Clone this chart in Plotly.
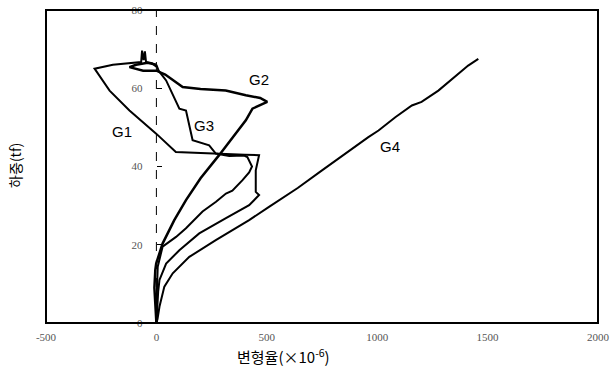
import plotly.graph_objects as go

# ---- data (strain ×10^-6, load tf) ----
g1_x = [0, 3, 8, 14, 44, 104, 194, 315, 420, 465, 450, 450, 465, 400, 269, 180, 88, -1, -122, -212, -280, -197, -122, -69, -65, -58, -52, -45, -47, -20, 0]
g1_y = [0, 4, 8, 11.0, 15.2, 18.6, 22.9, 26.8, 30.1, 32.7, 33.5, 39.0, 42.9, 43.0, 43.3, 43.5, 43.7, 48.4, 54.3, 59.4, 65.0, 66.0, 66.3, 66.7, 69.6, 67.2, 69.4, 67.0, 66.7, 66.4, 65.5]

g2_x = [0, -5, -9, -5, -1, 28, 81, 134, 200, 284, 345, 405, 435, 465, 502, 470, 405, 314, 200, 119, 88, 40, 0, -60, -122, -92, -40, 0]
g2_y = [0, 4, 9, 13.5, 15.2, 20.3, 26.3, 31.4, 37.0, 42.9, 47.5, 51.8, 54.8, 55.6, 56.5, 57.5, 58.2, 59.4, 59.8, 60.3, 61.6, 63.5, 64.5, 64.5, 65.4, 66.0, 66.5, 66.0]

g3_x = [0, 1, 6, 28, 89, 134, 209, 270, 315, 344, 390, 420, 433, 412, 397, 330, 269, 239, 164, 134, 104, 44, 10, 0]
g3_y = [0, 6, 14.4, 19.5, 22.0, 24.2, 28.5, 31.0, 33.1, 33.8, 36.5, 38.5, 40.0, 42.4, 42.8, 42.7, 43.3, 45.4, 46.7, 54.3, 54.8, 62.0, 64.5, 66.0]

g4_x = [0, 5, 14, 36, 74, 149, 269, 420, 510, 640, 750, 860, 960, 1006, 1082, 1157, 1201, 1277, 1340, 1412, 1458]
g4_y = [0, 1, 4.2, 9.3, 12.7, 16.9, 21.2, 26.3, 29.7, 34.5, 39.0, 43.5, 47.5, 49.2, 52.6, 55.6, 56.5, 59.4, 62.5, 65.8, 67.5]

series_names = ["G1", "G2", "G3", "G4"]
label_x = [-158, 465, 217, 1060]
label_y = [49, 62.3, 50.5, 45]

x_ticks = [-500, 0, 500, 1000, 1500, 2000]
y_ticks = [0, 20, 40, 60, 80]

fig = go.Figure()
widths = [2.0, 2.5, 2.0, 2.0]
for name, xs, ys, w in zip(series_names, [g1_x, g2_x, g3_x, g4_x], [g1_y, g2_y, g3_y, g4_y], widths):
    fig.add_trace(go.Scatter(x=xs, y=ys, mode="lines", name=name,
                             line=dict(color="black", width=w), showlegend=False))

for name, lx, ly in zip(series_names, label_x, label_y):
    fig.add_annotation(x=lx, y=ly, text=name, showarrow=False,
                       font=dict(family="Liberation Sans, Arial", size=15, color="black"))

# dashed zero line (y-axis line)
fig.add_shape(type="line", xref="x", yref="y", x0=0, x1=0, y0=0, y1=80,
              line=dict(color="black", width=1, dash="dash"))
# frame
fig.add_shape(type="rect", xref="paper", yref="paper", x0=0, x1=1, y0=0, y1=1,
              line=dict(color="black", width=2))

fig.update_layout(
    width=614, height=378,
    margin=dict(l=46, r=16, t=10, b=55, autoexpand=False),
    paper_bgcolor="white", plot_bgcolor="white",
    xaxis=dict(range=[-500, 2000], tickvals=x_ticks, ticktext=[str(v) for v in x_ticks],
               showgrid=False, zeroline=False, showline=False, ticks="",
               ticklabelstandoff=6, automargin=False,
               tickfont=dict(family="Liberation Serif", size=11, color="#555")),
    yaxis=dict(range=[0, 80], tickvals=y_ticks, ticktext=[str(v) for v in y_ticks],
               showgrid=False, zeroline=False, showline=False,
               anchor="free", position=(0 + 500) / 2500, side="left",
               ticks="inside", ticklen=5, tickcolor="black",
               ticklabelstandoff=14, automargin=False,
               tickfont=dict(family="Liberation Serif", size=11, color="#555")),
)

fig.add_annotation(xref="paper", yref="paper", x=(283 - 46) / 552, y=-0.065,
                   text="변형율(×10<sup>-6</sup>)", showarrow=False, yanchor="top",
                   font=dict(family="Noto Sans CJK KR", size=15, color="black"))
fig.add_annotation(xref="paper", yref="paper", x=-0.078, y=0.505,
                   text="하중(tf)", showarrow=False, textangle=-90,
                   font=dict(family="Noto Sans CJK KR", size=14, color="black"))

fig.write_html("out.html", config={"displayModeBar": False},
               post_script="document.body.style.margin='0';document.body.style.padding='0';document.body.style.overflow='hidden';")
